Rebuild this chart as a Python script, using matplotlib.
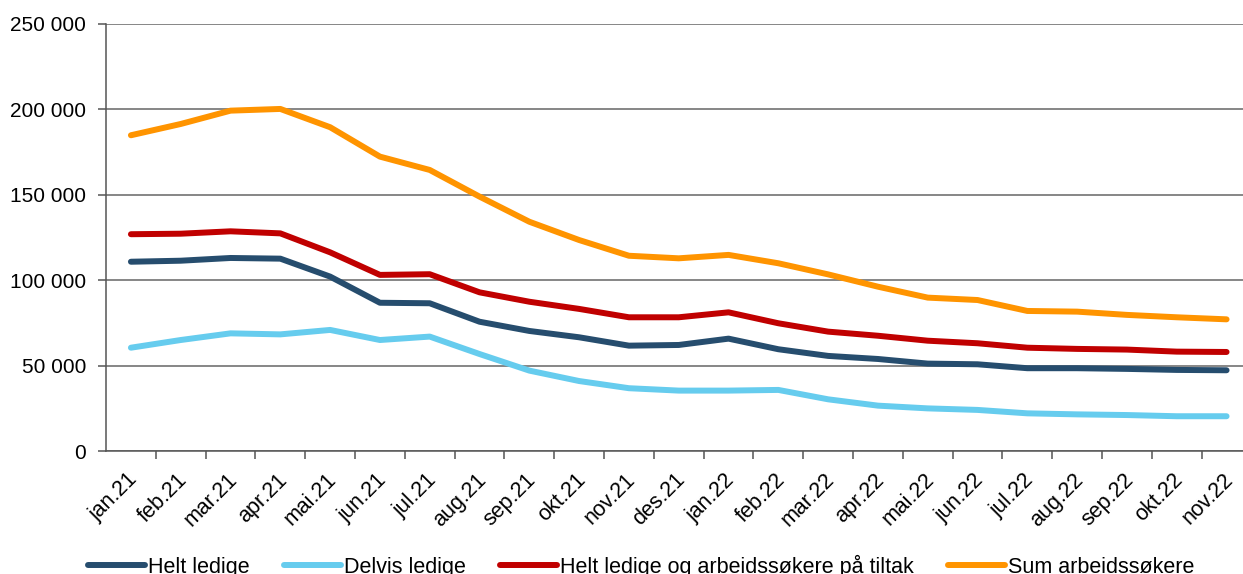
import matplotlib
matplotlib.use("Agg")
import matplotlib.pyplot as plt
import matplotlib.transforms as mtransforms
from matplotlib.ticker import FuncFormatter, MultipleLocator, FixedLocator

plt.rcParams['font.family'] = ['Liberation Sans', 'DejaVu Sans']

months = ['jan.21', 'feb.21', 'mar.21', 'apr.21', 'mai.21', 'jun.21', 'jul.21',
          'aug.21', 'sep.21', 'okt.21', 'nov.21', 'des.21', 'jan.22', 'feb.22',
          'mar.22', 'apr.22', 'mai.22', 'jun.22', 'jul.22', 'aug.22', 'sep.22',
          'okt.22', 'nov.22']

helt_ledige = [110900, 111500, 113100, 112700, 102200, 86900, 86600, 75800,
               70400, 66700, 61800, 62200, 65900, 59700, 55800, 54000, 51300,
               50900, 48600, 48600, 48200, 47600, 47400]
delvis_ledige = [60600, 65100, 69000, 68400, 71000, 65100, 67100, 56900, 47200,
                 41100, 36900, 35500, 35500, 35900, 30400, 26700, 25100, 24200,
                 22200, 21600, 21200, 20500, 20500]
helt_tiltak = [127000, 127300, 128700, 127500, 116400, 103200, 103600, 93000,
               87500, 83300, 78400, 78400, 81300, 74900, 70000, 67600, 64700,
               63200, 60600, 59900, 59500, 58300, 58100]
sum_arbeid = [184900, 191500, 199300, 200300, 189600, 172400, 164600, 149000,
              134300, 123600, 114400, 112900, 114900, 110000, 103500, 96300,
              89900, 88500, 82100, 81700, 79800, 78400, 77200]

series = [
    ('Helt ledige', helt_ledige, '#264d6e'),
    ('Delvis ledige', delvis_ledige, '#66ccee'),
    ('Helt ledige og arbeidssøkere på tiltak', helt_tiltak, '#c00000'),
    ('Sum arbeidssøkere', sum_arbeid, '#ff9400'),
]

fig = plt.figure(figsize=(12.43, 5.74), dpi=100)
ax = fig.add_axes([0.0853, 0.2138, 0.9147, 0.7444])

x = list(range(len(months)))
for name, vals, col in series:
    ax.plot(x, vals, color=col, lw=4.3, label=name, solid_capstyle='round',
            solid_joinstyle='round')

ax.set_xlim(-0.5, 22.33)
ax.set_ylim(0, 250000)
ax.yaxis.set_major_locator(MultipleLocator(50000))
ax.yaxis.set_major_formatter(FuncFormatter(lambda v, p: f"{int(v):,}".replace(',', ' ')))
ax.grid(axis='y', color='#666666', lw=1.1)
ax.set_axisbelow(True)

for s in ['top', 'right']:
    ax.spines[s].set_visible(False)
for s in ['left', 'bottom']:
    ax.spines[s].set_color('#555555')
    ax.spines[s].set_linewidth(1.1)

ax.xaxis.set_major_locator(FixedLocator(x))
ax.set_xticklabels(months, rotation=45, ha='right', rotation_mode='anchor')
ax.xaxis.set_minor_locator(FixedLocator([i + 0.5 for i in range(len(months))]))
ax.tick_params(axis='x', which='major', length=0, pad=13, labelsize=15.5)
ax.tick_params(axis='x', which='minor', length=6, width=1.1, color='#555555')
ax.tick_params(axis='y', length=6, width=1.1, color='#555555', labelsize=15, pad=8.5)

offset = mtransforms.ScaledTranslation(-0.04, 0, fig.dpi_scale_trans)
for lbl in ax.get_xticklabels():
    lbl.set_transform(lbl.get_transform() + offset)

fig.legend(loc='center', bbox_to_anchor=(0.516, 0.014), ncol=4, frameon=False,
           fontsize=15.5, handlelength=2.65, handletextpad=0.15, columnspacing=1.58,
           borderaxespad=0, borderpad=0)

fig.savefig('out.png', dpi=100)
